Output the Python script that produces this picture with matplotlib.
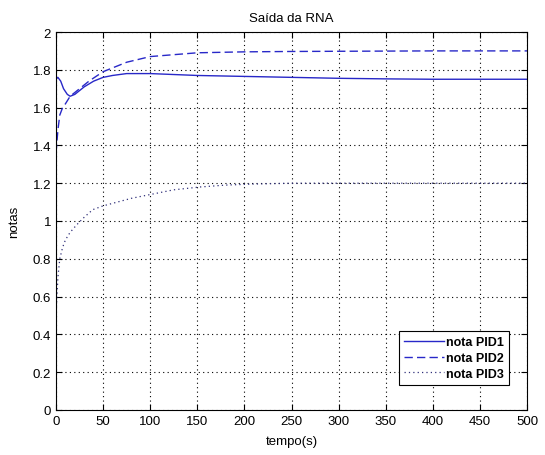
import matplotlib
matplotlib.use("Agg")
import matplotlib.pyplot as plt

t1 = [0, 2, 5, 8, 12, 15, 20, 25, 30, 40, 50, 60, 75, 100, 150, 200, 250, 300, 350, 400, 450, 500]
pid1 = [1.75, 1.76, 1.74, 1.70, 1.67, 1.66, 1.67, 1.69, 1.71, 1.74, 1.76, 1.77, 1.78, 1.78, 1.77, 1.765, 1.76, 1.755, 1.752, 1.75, 1.75, 1.75]

t2 = [0, 2, 4, 7, 10, 15, 20, 25, 35, 50, 75, 100, 125, 150, 200, 250, 300, 400, 500]
pid2 = [1.36, 1.48, 1.56, 1.60, 1.62, 1.66, 1.68, 1.70, 1.74, 1.79, 1.84, 1.87, 1.88, 1.89, 1.895, 1.897, 1.898, 1.90, 1.90]

t3 = [0, 1, 2, 4, 7, 10, 15, 22, 30, 39, 50, 65, 80, 100, 125, 153, 180, 206, 250, 300, 400, 500]
pid3 = [0.50, 0.60, 0.70, 0.80, 0.86, 0.90, 0.94, 0.98, 1.02, 1.06, 1.08, 1.10, 1.12, 1.14, 1.165, 1.18, 1.19, 1.195, 1.20, 1.20, 1.20, 1.20]

xticks = [0, 50, 100, 150, 200, 250, 300, 350, 400, 450, 500]
yticks = [0, 0.2, 0.4, 0.6, 0.8, 1, 1.2, 1.4, 1.6, 1.8, 2]
ytick_labels = ["0", "0.2", "0.4", "0.6", "0.8", "1", "1.2", "1.4", "1.6", "1.8", "2"]

plt.rcParams['font.family'] = ['Liberation Sans', 'DejaVu Sans']

fig = plt.figure(figsize=(5.45, 4.56), dpi=100)
ax = fig.add_axes([56/545, 45/456, 471/545, 378/456])

col = '#2828c8'
ax.plot(t1, pid1, '-', color=col, lw=1.0, label='nota PID1')
ax.plot(t2, pid2, '--', color=col, lw=1.0, dashes=(6, 3), label='nota PID2')
ax.plot(t3, pid3, color='#30307a', lw=0.9, linestyle=(0, (1, 2.5)), label='nota PID3')

ax.set_xlim(0, 500)
ax.set_ylim(0, 2)
ax.set_xticks(xticks)
ax.set_yticks(yticks)
ax.set_yticklabels(ytick_labels)
ax.tick_params(direction='in', top=True, right=True, labelsize=9.5, length=4)
ax.grid(True, linestyle=(0, (1, 3)), color='black', lw=0.8)
ax.set_axisbelow(True)
for s in ax.spines.values():
    s.set_linewidth(0.8)

ax.set_title('Saída da RNA', fontsize=9.5, pad=8)
ax.set_xlabel('tempo(s)', fontsize=9.5, labelpad=6)
ax.set_ylabel('notas', fontsize=9.5, labelpad=9)

leg = ax.legend(loc='lower right', bbox_to_anchor=(0.975, 0.05), prop={'weight': 'bold', 'size': 9},
                frameon=True, fancybox=False, edgecolor='black', framealpha=1,
                handlelength=3.2, handletextpad=0.2, borderpad=0.4, labelspacing=0.3)
leg.get_frame().set_linewidth(0.8)

fig.savefig('out.png', dpi=100)
